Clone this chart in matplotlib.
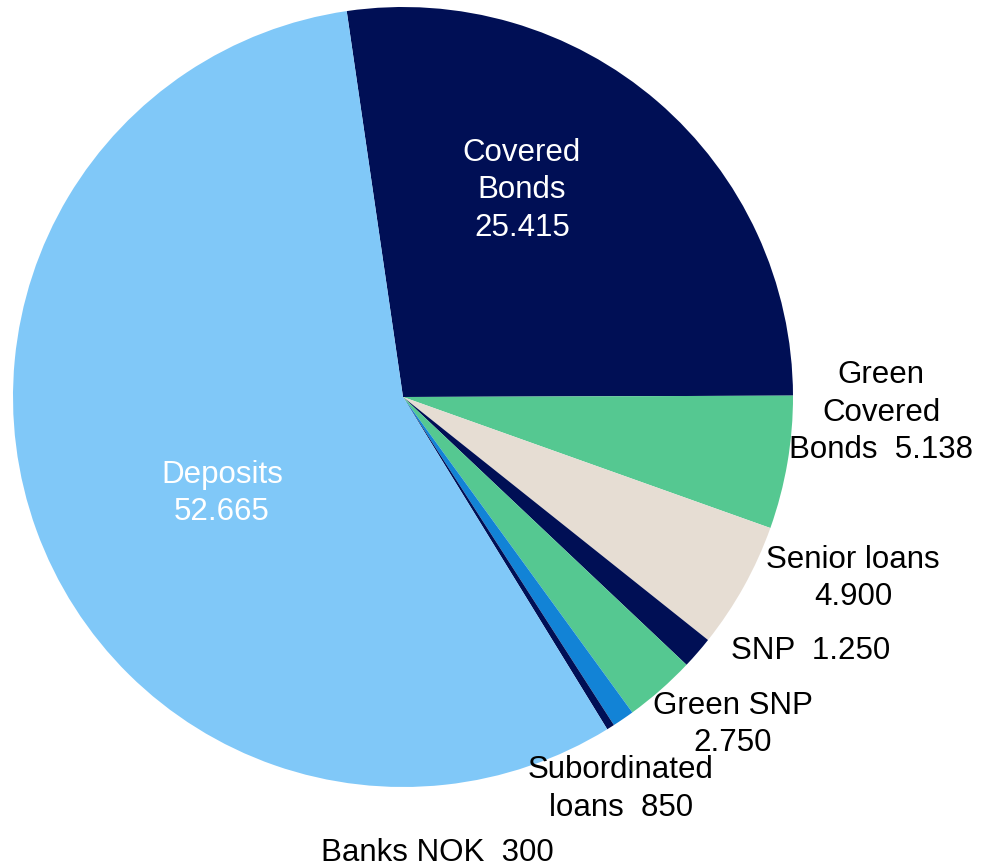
import matplotlib.pyplot as plt

plt.rcParams['font.family'] = ['Liberation Sans', 'DejaVu Sans']

labels = ["Covered\nBonds", "Green\nCovered\nBonds", "Senior loans", "SNP", "Green SNP",
          "Subordinated\nloans", "Banks NOK", "Deposits"]
values = [25415, 5138, 4900, 1250, 2750, 850, 300, 52665]
value_text = ["25.415", "5.138", "4.900", "1.250", "2.750", "850", "300", "52.665"]
seps = ["\n", "  ", "\n", "  ", "\n", "  ", "  ", "\n"]

colors = ["#000F55", "#55C891", "#E6DDD3", "#000F55", "#55C891", "#1283D6", "#000F55", "#80C8F8"]
text_colors = ["white", "black", "black", "black", "black", "black", "black", "white"]
# label offsets from pie centre, in units of radius
label_pos = [(0.305, 0.53), (1.226, -0.04), (1.154, -0.465), (1.044, -0.652),
             (0.846, -0.84), (0.559, -1.005), (0.087, -1.168), (-0.464, -0.248)]

fig = plt.figure(figsize=(9.82, 8.68), dpi=100)
ax = fig.add_axes([0, 0, 1, 1])

ax.pie(values, colors=colors, startangle=98.3, counterclock=False, radius=1,
       wedgeprops=dict(linewidth=0))

for lab, vt, sep, tc, (x, y) in zip(labels, value_text, seps, text_colors, label_pos):
    ax.text(x, y, lab + sep + vt, ha="center", va="center", color=tc,
            fontsize=22.5, linespacing=1.32)

s = 390
ax.set_xlim(-403 / s, (982 - 403) / s)
ax.set_ylim(-(868 - 397) / s, 397 / s)
ax.set_aspect("auto")
ax.axis("off")

fig.savefig("out.png", dpi=100)
